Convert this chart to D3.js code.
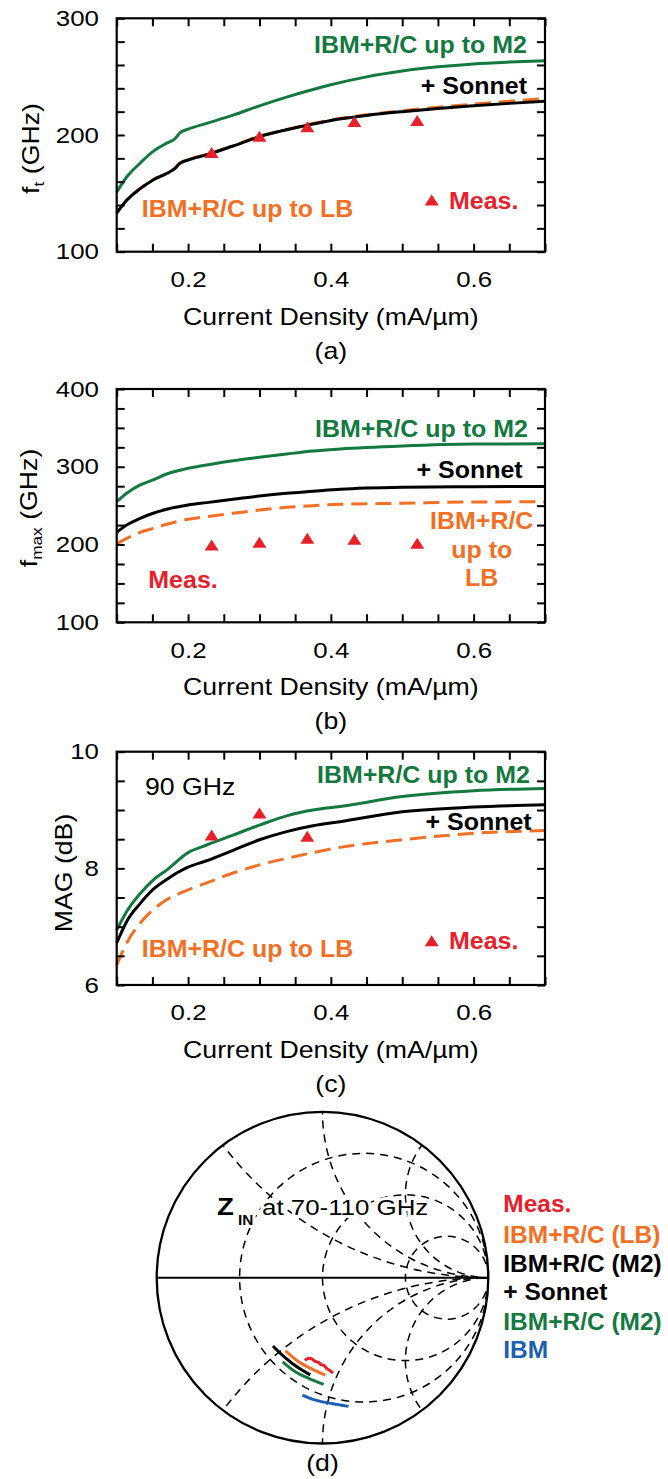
<!DOCTYPE html>
<html>
<head>
<meta charset="utf-8">
<script src="https://cdn.jsdelivr.net/npm/d3@7"></script>
<style>
  body { margin: 0; background: #fff; }
  text { font-family: "Liberation Sans", Arial, Helvetica, sans-serif; }
</style>
</head>
<body>
<svg id="fig" width="668" height="1479"></svg>
<script>
// ---------- data: panel (a) f_t ----------
const currentA   = [0.1, 0.114, 0.133, 0.151, 0.17, 0.182, 0.188, 0.2, 0.226, 0.263, 0.3, 0.338, 0.375, 0.4, 0.45, 0.5, 0.55, 0.6, 0.65, 0.7];
const ftM2       = [151, 164, 176, 186, 193, 197, 201.5, 205, 210, 217, 225, 232.5, 239, 243, 249.8, 254.8, 258.4, 260.9, 262.5, 263.7];
const ftSonnet   = [133, 144, 154, 161.5, 167, 171.5, 175.5, 178.6, 183, 190.6, 198.6, 204.5, 209.5, 212.5, 216.8, 220, 222.7, 225, 227.1, 229];
const ftLB       = [133.3, 144.3, 154.3, 161.8, 167.3, 171.8, 175.8, 178.9, 183.3, 190.9, 198.9, 204.8, 209.8, 212.8, 217.3, 220.8, 223.8, 226.5, 228.9, 231.3];
const measCurrent = [0.233, 0.300, 0.367, 0.433, 0.521];
const ftMeas     = [185, 199, 207, 211.5, 212.5];

// ---------- data: panel (b) f_max ----------
const currentBC  = [0.1, 0.114, 0.133, 0.151, 0.17, 0.2, 0.226, 0.263, 0.3, 0.338, 0.375, 0.413, 0.5, 0.6, 0.7];
const fmaxM2     = [255, 266, 276.6, 283, 290.7, 298, 302.3, 307.8, 312.2, 316.4, 320.3, 322.9, 326.7, 329.2, 329.5];
const fmaxSonnet = [215.7, 225.1, 233.7, 240.2, 245.3, 250.9, 253.9, 258.1, 262.4, 265.9, 268.4, 271, 273.6, 274.4, 274.5];
const fmaxLB     = [200.7, 208, 215.7, 220.8, 226, 232.4, 235.8, 240.1, 244.4, 247.9, 250, 251.8, 253, 254.7, 255];
const fmaxMeas   = [199.4, 202.9, 208, 206.8, 201.6];

// ---------- data: panel (c) MAG at 90 GHz ----------
const magM2      = [6.94, 7.26, 7.57, 7.80, 7.97, 8.27, 8.40, 8.57, 8.74, 8.90, 9.00, 9.06, 9.23, 9.33, 9.37];
const magSonnet  = [6.72, 7.09, 7.40, 7.64, 7.81, 8.02, 8.13, 8.31, 8.49, 8.63, 8.73, 8.80, 8.97, 9.05, 9.09];
const magLB      = [6.34, 6.72, 7.06, 7.29, 7.46, 7.63, 7.75, 7.92, 8.06, 8.17, 8.27, 8.36, 8.49, 8.60, 8.65];
const magMeasCurrent = [0.233, 0.300, 0.367];
const magMeas    = [8.57, 8.95, 8.55];

// ---------- tick labels ----------
const xTickLabels    = [0.2, 0.4, 0.6];
const ftTickLabels   = [100, 200, 300];
const fmaxTickLabels = [100, 200, 300, 400];
const magTickLabels  = [6, 8, 10];

// ---------- data: panel (d) Smith chart, Z_IN at 70-110 GHz (reflection coefficient re, im) ----------
const smithR = [1 / 3, 1, 3];
const smithX = [0.5, 1, 2, -0.5, -1, -2];
const zinMeasRe = [-0.106, -0.088, -0.063, -0.045, -0.027, -0.009, 0.009, 0.027, 0.045, 0.063];
const zinMeasIm = [-0.499, -0.487, -0.489, -0.505, -0.509, -0.524, -0.530, -0.548, -0.560, -0.575];
const zinLBRe   = [-0.223, -0.144, -0.063, 0.017];
const zinLBIm   = [-0.442, -0.507, -0.551, -0.587];
const zinSonRe  = [-0.299, -0.244, -0.184, -0.124, -0.074];
const zinSonIm  = [-0.412, -0.466, -0.516, -0.557, -0.586];
const zinM2Re   = [-0.240, -0.164, -0.083, 0.007];
const zinM2Im   = [-0.507, -0.567, -0.607, -0.643];
const zinIbmRe  = [-0.121, -0.063, 0.017, 0.088, 0.157];
const zinIbmIm  = [-0.708, -0.732, -0.752, -0.764, -0.776];

// ---------- styling ----------
const COL = { green: "#13793f", orange: "#f36f24", red: "#e8202a", blue: "#1a5fb4", black: "#000" };
const REG = 23.2, REG_SX = 1.15, BOLD = 24.5, BOLD_SX = 1.02;

const svg = d3.select("#fig");
svg.append("rect").attr("width", 668).attr("height", 1479).attr("fill", "#fff");

function label(g, x, y, str, o = {}) {
  const sx = o.sx || (o.bold ? BOLD_SX : REG_SX);
  return g.append("text")
    .attr("transform", `translate(${x},${y})${o.rot ? " rotate(-90)" : ""} scale(${sx},1)`)
    .attr("text-anchor", o.anchor || "start")
    .attr("font-size", o.size || (o.bold ? BOLD : REG))
    .attr("font-weight", o.bold ? "bold" : "normal")
    .attr("fill", o.color || "#000")
    .text(str);
}

const xScale = d3.scaleLinear().domain([0.1, 0.7]).range([116.7, 545]);
const xMinor = d3.range(2, 15).map(i => +(i * 0.05).toFixed(2));

function triangle(cx, cy) {
  return `M${cx},${cy - 5.5}L${cx + 7},${cy + 5.5}L${cx - 7},${cy + 5.5}Z`;
}

function panel(cfg) {
  const g = svg.append("g");
  const y = d3.scaleLinear().domain(cfg.yDomain).range([cfg.bottom, cfg.top]);
  const [lo, hi] = cfg.yDomain;
  const n = Math.round((hi - lo) / cfg.yStep);
  const yMinor = d3.range(n + 1).map(i => lo + i * cfg.yStep);
  const isX = d => xTickLabels.some(v => Math.abs(v - d) < 1e-9);
  const isY = d => cfg.yLabels.some(v => Math.abs(v - d) < 1e-9);

  // curves
  const line = d3.line().x(d => xScale(d[0])).y(d => y(d[1])).curve(d3.curveMonotoneX);
  cfg.series.forEach(s => {
    g.append("path")
      .datum(cfg.x.map((v, i) => [v, s.values[i]]))
      .attr("d", line)
      .attr("fill", "none")
      .attr("stroke", s.color)
      .attr("stroke-width", 3)
      .attr("stroke-dasharray", s.dash || null);
  });

  // measured points
  g.selectAll("path.meas")
    .data(cfg.measX.map((v, i) => [v, cfg.measY[i]]))
    .join("path")
    .attr("class", "meas")
    .attr("d", d => triangle(xScale(d[0]), y(d[1])))
    .attr("fill", COL.red);

  // axes with inward ticks on all four sides
  const styleAxis = sel => {
    sel.select(".domain").remove();
    sel.attr("font-size", null).attr("font-family", null);
    sel.selectAll(".tick line").attr("stroke-width", 2);
    sel.selectAll(".tick text")
      .attr("font-size", 22.5)
      .attr("fill", "#000")
      .attr("transform", `scale(${REG_SX},1)`);
  };
  g.append("g").attr("transform", `translate(0,${cfg.bottom})`)
    .call(d3.axisBottom(xScale).tickValues(xMinor).tickSizeInner(-8).tickSizeOuter(0)
      .tickPadding(19.5).tickFormat(d => isX(d) ? d3.format(".1f")(d) : ""))
    .call(styleAxis);
  g.append("g").attr("transform", `translate(0,${cfg.top})`)
    .call(d3.axisTop(xScale).tickValues(xMinor).tickSizeInner(-8).tickSizeOuter(0).tickFormat(""))
    .call(styleAxis);
  g.append("g").attr("transform", `translate(${xScale.range()[0]},0)`)
    .call(d3.axisLeft(y).tickValues(yMinor).tickSizeInner(-8).tickSizeOuter(0)
      .tickPadding(15.4).tickFormat(d => isY(d) ? d3.format("d")(d) : ""))
    .call(styleAxis);
  g.append("g").attr("transform", `translate(${xScale.range()[1]},0)`)
    .call(d3.axisRight(y).tickValues(yMinor).tickSizeInner(-8).tickSizeOuter(0).tickFormat(""))
    .call(styleAxis);

  // frame
  g.append("rect")
    .attr("x", xScale.range()[0]).attr("y", cfg.top)
    .attr("width", xScale.range()[1] - xScale.range()[0])
    .attr("height", cfg.bottom - cfg.top)
    .attr("fill", "none").attr("stroke", "#000").attr("stroke-width", 2.2);

  // axis titles
  const midX = (xScale.range()[0] + xScale.range()[1]) / 2;
  label(g, midX, cfg.bottom + 73, "Current Density (mA/µm)", { anchor: "middle" });
  label(g, midX, cfg.bottom + 107, cfg.tag, { anchor: "middle" });

  const yl = g.append("text")
    .attr("transform", `translate(${cfg.yLabelX},${cfg.yLabelY}) rotate(-90) scale(${REG_SX},1)`)
    .attr("text-anchor", "middle")
    .attr("font-size", REG)
    .attr("fill", "#000");
  cfg.yTitle(yl);

  cfg.notes(g, y);
  return g;
}

// (a) f_t
panel({
  top: 18.3, bottom: 251.7, yDomain: [100, 300], yStep: 20, yLabels: ftTickLabels,
  x: currentA,
  series: [
    { values: ftLB, color: COL.orange, dash: "16,8" },
    { values: ftSonnet, color: COL.black },
    { values: ftM2, color: COL.green }
  ],
  measX: measCurrent, measY: ftMeas, tag: "(a)",
  yLabelX: 38.5, yLabelY: 148.5,
  yTitle: t => {
    t.append("tspan").text("f");
    t.append("tspan").attr("font-size", 15).attr("dy", 5).text("t");
    t.append("tspan").attr("dy", -5).text(" (GHz)");
  },
  notes: (g) => {
    label(g, 527, 53, "IBM+R/C up to M2", { bold: true, anchor: "end", color: COL.green });
    label(g, 527, 94, "+ Sonnet", { bold: true, anchor: "end", color: COL.black });
    label(g, 141.7, 216.7, "IBM+R/C up to LB", { bold: true, color: COL.orange });
    g.append("path").attr("d", triangle(431.7, 200)).attr("fill", COL.red);
    label(g, 449, 209, "Meas.", { bold: true, color: COL.red });
  }
});

// (b) f_max
panel({
  top: 389, bottom: 622.3, yDomain: [100, 400], yStep: 25, yLabels: fmaxTickLabels,
  x: currentBC,
  series: [
    { values: fmaxLB, color: COL.orange, dash: "16,8" },
    { values: fmaxSonnet, color: COL.black },
    { values: fmaxM2, color: COL.green }
  ],
  measX: measCurrent, measY: fmaxMeas, tag: "(b)",
  yLabelX: 37, yLabelY: 508,
  yTitle: t => {
    t.append("tspan").text("f");
    t.append("tspan").attr("font-size", 15).attr("dy", 5).text("max");
    t.append("tspan").attr("dy", -5).text(" (GHz)");
  },
  notes: (g) => {
    label(g, 528, 436.7, "IBM+R/C up to M2", { bold: true, anchor: "end", color: COL.green });
    label(g, 522.7, 478.3, "+ Sonnet", { bold: true, anchor: "end", color: COL.black });
    label(g, 481.7, 529.3, "IBM+R/C", { bold: true, anchor: "middle", color: COL.orange });
    label(g, 481.7, 557.7, "up to", { bold: true, anchor: "middle", color: COL.orange });
    label(g, 481.7, 586, "LB", { bold: true, anchor: "middle", color: COL.orange });
    label(g, 148.3, 588.3, "Meas.", { bold: true, color: COL.red });
  }
});

// (c) MAG at 90 GHz
panel({
  top: 751.7, bottom: 985, yDomain: [6, 10], yStep: 0.5, yLabels: magTickLabels,
  x: currentBC,
  series: [
    { values: magLB, color: COL.orange, dash: "16,8" },
    { values: magSonnet, color: COL.black },
    { values: magM2, color: COL.green }
  ],
  measX: magMeasCurrent, measY: magMeas, tag: "(c)",
  yLabelX: 71.7, yLabelY: 873,
  yTitle: t => t.text("MAG (dB)"),
  notes: (g) => {
    label(g, 145, 795, "90 GHz");
    label(g, 530, 783.3, "IBM+R/C up to M2", { bold: true, anchor: "end", color: COL.green });
    label(g, 531.7, 830, "+ Sonnet", { bold: true, anchor: "end", color: COL.black });
    label(g, 141.7, 956.7, "IBM+R/C up to LB", { bold: true, color: COL.orange });
    g.append("path").attr("d", triangle(431.7, 940.7)).attr("fill", COL.red);
    label(g, 449, 949.3, "Meas.", { bold: true, color: COL.red });
  }
});

// (d) Smith chart
(function smith() {
  const cx = 322.5, cy = 1277.7, R = 165.8;
  const gx = d3.scaleLinear().domain([-1, 1]).range([cx - R, cx + R]);
  const gy = d3.scaleLinear().domain([-1, 1]).range([cy + R, cy - R]);
  const g = svg.append("g");

  g.append("clipPath").attr("id", "smithClip")
    .append("circle").attr("cx", cx).attr("cy", cy).attr("r", R);

  const grid = g.append("g").attr("clip-path", "url(#smithClip)")
    .attr("fill", "none").attr("stroke", "#000").attr("stroke-width", 1.5)
    .attr("stroke-dasharray", "8,6");

  // constant-resistance circles
  grid.selectAll("circle.r").data(smithR).join("circle")
    .attr("class", "r")
    .attr("cx", r => gx(r / (1 + r)))
    .attr("cy", gy(0))
    .attr("r", r => gx(1 / (1 + r)) - gx(0));

  // constant-reactance arcs
  grid.selectAll("circle.x").data(smithX).join("circle")
    .attr("class", "x")
    .attr("cx", gx(1))
    .attr("cy", x => gy(1 / x))
    .attr("r", x => gx(1 / Math.abs(x)) - gx(0));

  // real axis and outer boundary
  g.append("line").attr("x1", gx(-1)).attr("x2", gx(1)).attr("y1", gy(0)).attr("y2", gy(0))
    .attr("stroke", "#000").attr("stroke-width", 2);
  g.append("circle").attr("cx", cx).attr("cy", cy).attr("r", R)
    .attr("fill", "none").attr("stroke", "#000").attr("stroke-width", 2.3);

  // Z_IN traces
  const line = d3.line().x(d => gx(d[0])).y(d => gy(d[1])).curve(d3.curveCatmullRom);
  const traces = [
    { re: zinIbmRe, im: zinIbmIm, color: COL.blue },
    { re: zinM2Re, im: zinM2Im, color: COL.green },
    { re: zinLBRe, im: zinLBIm, color: COL.orange },
    { re: zinSonRe, im: zinSonIm, color: COL.black },
    { re: zinMeasRe, im: zinMeasIm, color: COL.red }
  ];
  traces.forEach(t => {
    g.append("path")
      .datum(t.re.map((v, i) => [v, t.im[i]]))
      .attr("d", line)
      .attr("fill", "none")
      .attr("stroke", t.color)
      .attr("stroke-width", 3);
  });

  // title inside the chart
  const halo = sel => sel.attr("stroke", "#fff").attr("stroke-width", 6)
    .attr("paint-order", "stroke").attr("stroke-linejoin", "round");
  label(g, 217, 1215, "Z", { bold: true, size: 24, sx: 1.15 }).call(halo);
  label(g, 238, 1225, "IN", { bold: true, size: 14, sx: 1.1 }).call(halo);
  label(g, 262, 1215, "at 70-110 GHz", { size: 22.5 }).call(halo);

  // legend
  const legend = [
    ["Meas.", COL.red, 1211.7],
    ["IBM+R/C (LB)", COL.orange, 1243.3],
    ["IBM+R/C (M2)", COL.black, 1271.7],
    ["+ Sonnet", COL.black, 1300],
    ["IBM+R/C (M2)", COL.green, 1330],
    ["IBM", COL.blue, 1358.3]
  ];
  legend.forEach(([t, c, yy]) => label(g, 503.3, yy, t, { bold: true, size: 24, color: c }));

  label(g, cx, 1471, "(d)", { anchor: "middle" });
})();
</script>
</body>
</html>
